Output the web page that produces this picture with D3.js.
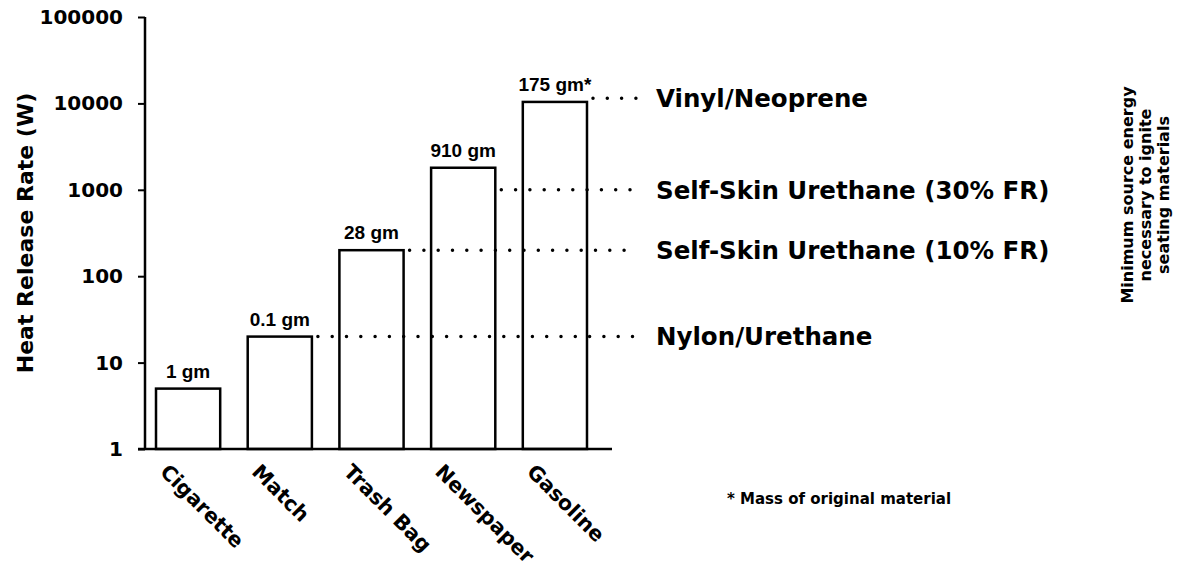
<!DOCTYPE html>
<html>
<head>
<meta charset="utf-8">
<title>Heat Release Rate of ignition sources</title>
<script src="https://d3js.org/d3.v7.min.js"></script>
<style>
  body { margin: 0; background: #fff; }
  text { font-family: "DejaVu Sans", "Liberation Sans", sans-serif; font-weight: bold; fill: #000; }
</style>
</head>
<body>
<svg id="chart"></svg>
<script>
// ignition sources (bars)
var sources = ["Cigarette", "Match", "Trash Bag", "Newspaper", "Gasoline"];
var heatRelease = [5, 20, 200, 1800, 10400];   // W
var massLabels = ["1 gm", "0.1 gm", "28 gm", "910 gm", "175 gm*"];

// seating materials: minimum source energy to ignite
var materials = ["Nylon/Urethane", "Self-Skin Urethane (10% FR)", "Self-Skin Urethane (30% FR)", "Vinyl/Neoprene"];
var materialLevels = [20, 200, 1000, 11500];
var materialFrom = ["Match", "Trash Bag", "Newspaper", "Gasoline"];   // dotted line starts at this bar

var yTicks = [1, 10, 100, 1000, 10000, 100000];

var width = 1190, height = 574;
var svg = d3.select("#chart").attr("width", width).attr("height", height);

var x = d3.scaleBand()
    .domain(sources)
    .range([145, 598])
    .paddingInner(0.3)
    .paddingOuter(0.12);

var y = d3.scaleLog()
    .domain([1, 100000])
    .range([449, 17]);

var lineEnd = 637;

// y axis
var yAxis = svg.append("g")
    .attr("transform", "translate(145,0)")
    .call(d3.axisLeft(y).tickValues(yTicks).tickFormat(d3.format("d")).tickSize(7).tickPadding(15));
yAxis.select(".domain").attr("stroke", "#000").attr("stroke-width", 2.5).attr("d", "M0," + y(1) + "V" + y(100000));
yAxis.selectAll(".tick line").attr("stroke", "#000").attr("stroke-width", 2);
yAxis.selectAll(".tick text")
    .style("font-size", "20px")
    .style("font-family", "'DejaVu Sans', sans-serif")
    .style("font-weight", "bold");

// x axis baseline
svg.append("line")
    .attr("x1", 138).attr("x2", x.range()[1] + 14)
    .attr("y1", y(1)).attr("y2", y(1))
    .attr("stroke", "#000").attr("stroke-width", 2.5);

// dotted threshold lines (drawn first so bars sit on them)
svg.selectAll(".thresh")
    .data(materials)
  .enter().append("line")
    .attr("class", "thresh")
    .attr("x1", function(d, i) { return x(materialFrom[i]) + x.bandwidth() + 6; })
    .attr("x2", lineEnd)
    .attr("y1", function(d, i) { return y(materialLevels[i]); })
    .attr("y2", function(d, i) { return y(materialLevels[i]); })
    .attr("stroke", "#000")
    .attr("stroke-width", 3.5)
    .attr("stroke-linecap", "round")
    .attr("stroke-dasharray", "0 14.3");

svg.selectAll(".thresh-label")
    .data(materials)
  .enter().append("text")
    .attr("class", "thresh-label")
    .attr("x", 656)
    .attr("y", function(d, i) { return y(materialLevels[i]); })
    .attr("dy", "0.36em")
    .style("font-size", "24.5px")
    .text(function(d) { return d; });

// bars
svg.selectAll(".bar")
    .data(sources)
  .enter().append("rect")
    .attr("class", "bar")
    .attr("x", function(d) { return x(d); })
    .attr("width", x.bandwidth())
    .attr("y", function(d, i) { return y(heatRelease[i]); })
    .attr("height", function(d, i) { return y(1) - y(heatRelease[i]); })
    .attr("fill", "none")
    .attr("stroke", "#000")
    .attr("stroke-width", 2.5);

// mass labels above bars
svg.selectAll(".mass")
    .data(sources)
  .enter().append("text")
    .attr("class", "mass")
    .attr("x", function(d) { return x(d) + x.bandwidth() / 2; })
    .attr("y", function(d, i) { return y(heatRelease[i]) - 11; })
    .attr("text-anchor", "middle")
    .style("font-family", "'Liberation Sans', sans-serif")
    .style("font-size", "19px")
    .text(function(d, i) { return massLabels[i]; });

// rotated category labels
svg.selectAll(".cat")
    .data(sources)
  .enter().append("text")
    .attr("class", "cat")
    .attr("transform", function(d) { return "translate(" + (x(d) + 3) + "," + (y(1) + 24) + ") rotate(45)"; })
    .style("font-size", "20.5px")
    .text(function(d) { return d; });

// y axis title
svg.append("text")
    .attr("transform", "translate(33," + ((y(1) + y(100000)) / 2) + ") rotate(-90)")
    .attr("text-anchor", "middle")
    .style("font-size", "22px")
    .text("Heat Release Rate (W)");

// right-hand title
var rightTitle = ["Minimum source energy", "necessary to ignite", "seating materials"];
svg.append("text")
    .attr("transform", "translate(1133,195) rotate(-90)")
    .attr("text-anchor", "middle")
    .style("font-size", "16px")
    .selectAll("tspan")
    .data(rightTitle)
  .enter().append("tspan")
    .attr("x", 0)
    .attr("dy", function(d, i) { return i === 0 ? 0 : "1.12em"; })
    .text(function(d) { return d; });

// footnote
svg.append("text")
    .attr("x", 727)
    .attr("y", 504)
    .style("font-size", "15px")
    .text("* Mass of original material");
</script>
</body>
</html>
